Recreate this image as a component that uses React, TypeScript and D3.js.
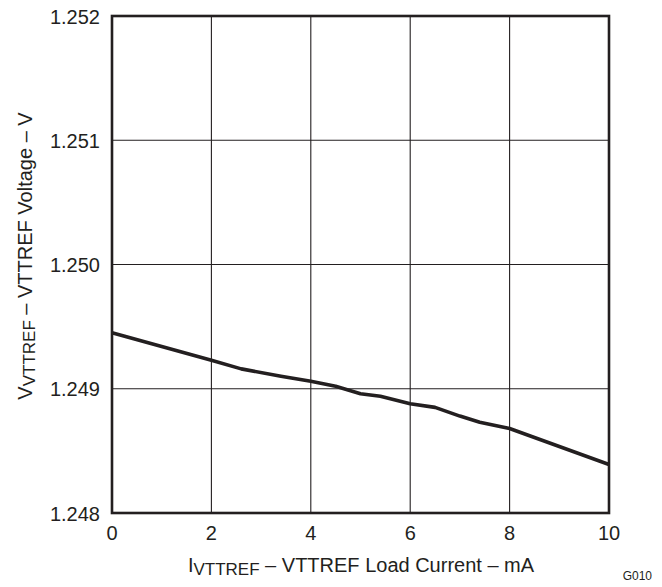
import React, { useEffect, useRef } from 'react';
import * as d3 from 'd3';

const loadCurrent = [0, 2, 2.6, 3.4, 4, 4.5, 5, 5.4, 6, 6.5, 7, 7.4, 8, 10];
const vttrefVoltage = [
  1.24945, 1.24923, 1.24916, 1.2491, 1.24906, 1.24902, 1.24896, 1.24894,
  1.24888, 1.24885, 1.24878, 1.24873, 1.24868, 1.24839,
];
const xTicks = [0, 2, 4, 6, 8, 10];
const yTicks = [1.248, 1.249, 1.25, 1.251, 1.252];

const W = 662;
const H = 587;
const FONT = '"Liberation Sans", Arial, sans-serif';
const INK = '#231f20';

export default function App() {
  const svgRef = useRef<SVGSVGElement>(null);

  useEffect(() => {
    if (!svgRef.current) return;
    const svg = d3.select(svgRef.current);
    svg.selectAll('*').remove();

    const margin = { top: 16, right: 53, bottom: 74, left: 112 };
    const w = W - margin.left - margin.right;
    const h = H - margin.top - margin.bottom;

    const x = d3.scaleLinear().domain([0, 10]).range([0, w]);
    const y = d3.scaleLinear().domain([1.248, 1.252]).range([h, 0]);

    const g = svg.append('g').attr('transform', `translate(${margin.left},${margin.top})`);

    // grid
    g.selectAll('line.gx')
      .data(xTicks.slice(1, -1))
      .enter()
      .append('line')
      .attr('x1', (d) => x(d))
      .attr('x2', (d) => x(d))
      .attr('y1', 0)
      .attr('y2', h)
      .attr('stroke', INK)
      .attr('stroke-width', 1.1);
    g.selectAll('line.gy')
      .data(yTicks.slice(1, -1))
      .enter()
      .append('line')
      .attr('x1', 0)
      .attr('x2', w)
      .attr('y1', (d) => y(d))
      .attr('y2', (d) => y(d))
      .attr('stroke', INK)
      .attr('stroke-width', 1.1);

    // curve
    const pts = loadCurrent.map((c, i) => [c, vttrefVoltage[i]] as [number, number]);
    const line = d3
      .line<[number, number]>()
      .x((d) => x(d[0]))
      .y((d) => y(d[1]));
    g.append('path')
      .datum(pts)
      .attr('fill', 'none')
      .attr('stroke', INK)
      .attr('stroke-width', 3.6)
      .attr('stroke-linejoin', 'round')
      .attr('d', line);

    // frame
    g.append('rect')
      .attr('width', w)
      .attr('height', h)
      .attr('fill', 'none')
      .attr('stroke', INK)
      .attr('stroke-width', 2.6);

    // tick labels
    g.selectAll('text.xt')
      .data(xTicks)
      .enter()
      .append('text')
      .attr('x', (d) => x(d))
      .attr('y', h + 27)
      .attr('text-anchor', 'middle')
      .attr('font-family', FONT)
      .attr('font-size', 20)
      .attr('fill', INK)
      .text((d) => String(d));
    g.selectAll('text.yt')
      .data(yTicks)
      .enter()
      .append('text')
      .attr('x', -12)
      .attr('y', (d) => y(d) + 7.5)
      .attr('text-anchor', 'end')
      .attr('font-family', FONT)
      .attr('font-size', 20)
      .attr('fill', INK)
      .text((d) => d3.format('.3f')(d));

    // x title
    const xt = svg
      .append('text')
      .attr('x', 361)
      .attr('y', 572)
      .attr('text-anchor', 'middle')
      .attr('font-family', FONT)
      .attr('font-size', 20)
      .attr('fill', INK);
    xt.append('tspan').text('I');
    xt.append('tspan').attr('font-size', 17).attr('dy', 2.5).text('VTTREF');
    xt.append('tspan').attr('dy', -2.5).text(' – VTTREF Load Current – mA');

    // y title
    const yt = svg
      .append('text')
      .attr('transform', `translate(32,256) rotate(-90)`)
      .attr('text-anchor', 'middle')
      .attr('font-family', FONT)
      .attr('font-size', 20)
      .attr('fill', INK);
    yt.append('tspan').text('V');
    yt.append('tspan').attr('font-size', 17).attr('dy', 2.5).text('VTTREF');
    yt.append('tspan').attr('dy', -2.5).text(' – VTTREF Voltage – V');

    svg
      .append('text')
      .attr('x', 652)
      .attr('y', 580)
      .attr('text-anchor', 'end')
      .attr('font-family', FONT)
      .attr('font-size', 12)
      .attr('fill', INK)
      .text('G010');
  }, []);

  return (
    <svg
      ref={svgRef}
      width={W}
      height={H}
      style={{ display: 'block', position: 'absolute', left: 0, top: 0, background: '#fff' }}
    />
  );
}
